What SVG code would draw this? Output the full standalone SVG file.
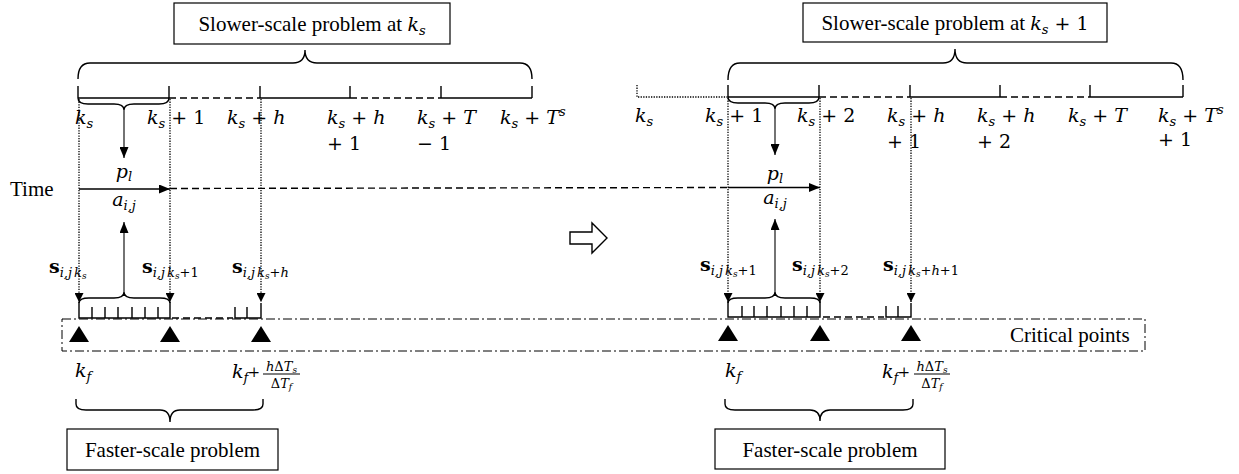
<svg xmlns="http://www.w3.org/2000/svg" width="1239" height="474" viewBox="0 0 1239 474">
<defs>
<style>
.ln{stroke:#000;stroke-width:1.4;fill:none}
.thin{stroke:#000;stroke-width:1.1;fill:none}
.dash{stroke:#000;stroke-width:1.4;fill:none;stroke-dasharray:7,4}
.dot{stroke:#000;stroke-width:1.3;fill:none;stroke-dasharray:1.3,1.3}
.dd{stroke:#000;stroke-width:1;fill:none;stroke-dasharray:9,3,2,3}
.box{fill:#fff;stroke:#000;stroke-width:1.2}
.tri{fill:#000}
.t{font-family:"Liberation Serif","Times New Roman",serif;font-size:21px;fill:#000}
.m{font-family:"DejaVu Serif","Liberation Serif",serif;font-size:19px;fill:#000}
.i{font-style:italic}
.sb{font-size:13px;font-style:italic}
.ss{font-size:9px;font-style:italic}
.n13{font-size:13px;font-style:normal}
.fr{font-family:"DejaVu Serif","Liberation Serif",serif;font-size:13px;fill:#000}
</style>
<marker id="ah" markerUnits="userSpaceOnUse" markerWidth="11" markerHeight="9" refX="11" refY="4.5" orient="auto"><path d="M0,0 L11,4.5 L0,9 z" fill="#000"/></marker>
<marker id="ahd" markerUnits="userSpaceOnUse" markerWidth="9" markerHeight="9" refX="9" refY="4.5" orient="auto"><path d="M0,0 L9,4.5 L0,9 z" fill="#000"/></marker>
</defs>
<rect width="1239" height="474" fill="#fff"/>

<g id="connectors">
<path class="ln" d="M78,98 H169 M260,98 H350 M441,98 H532"/>
<path class="dash" d="M169,98 H260 M350,98 H441"/>
<path class="ln" d="M78,86 V98 M169,86 V98 M260,86 V98 M350,86 V98 M441,86 V98 M532,86 V98"/>
<path class="ln" d="M78,79 Q78,63 90,63 L293,63 Q305,63 305,50 Q305,63 317,63 L520,63 Q532,63 532,79"/>
<path class="ln" d="M78,98 Q78,104 88,104 L114,104 Q124,104 124,110 Q124,104 134,104 L159,104 Q169,104 169,98"/>
<line class="thin" x1="124" y1="110" x2="124" y2="158" marker-end="url(#ah)"/>
<line class="dot" x1="79" y1="99" x2="79" y2="302" marker-end="url(#ahd)"/>
<line class="dot" x1="170" y1="99" x2="170" y2="302" marker-end="url(#ahd)"/>
<line class="dot" x1="261" y1="99" x2="261" y2="302" marker-end="url(#ahd)"/>
<line class="ln" x1="79" y1="189" x2="170" y2="189" marker-end="url(#ah)"/>
<path class="dash" d="M170,188.5 L728,187.5"/>
<line class="ln" x1="728" y1="187.5" x2="820" y2="187.5" marker-end="url(#ah)"/>
<line class="thin" x1="124" y1="292" x2="124" y2="222" marker-end="url(#ah)"/>
<path class="ln" d="M79,303 Q79,298 89,298 L114,298 Q124,298 124,292 Q124,298 134,298 L160,298 Q170,298 170,303"/>
<path class="ln" d="M79,302 V318 H170 V302 M92,307 V318 M105,307 V318 M118,307 V318 M132,307 V318 M145,307 V318 M158,307 V318"/>
<path class="dash" d="M172,318 H233"/>
<path class="ln" d="M235,307 V318 H261 V303 M247,307 V318"/>

<path class="dot" d="M637,85 V97 H728"/>
<path class="ln" d="M728,97 H819 M910,97 H1000 M1090,97 H1183"/>
<path class="dash" d="M819,97 H910 M1000,97 H1090"/>
<path class="ln" d="M728,85 V97 M819,85 V97 M910,85 V97 M1000,85 V97 M1090,85 V97 M1183,85 V97"/>
<path class="ln" d="M728,80 Q728,63 740,63 L943,63 Q955,63 955,49 Q955,63 967,63 L1171,63 Q1183,63 1183,80"/>
<path class="ln" d="M728,97 Q728,103 738,103 L765,103 Q775,103 775,109 Q775,103 785,103 L809,103 Q819,103 819,97"/>
<line class="thin" x1="775" y1="109" x2="775" y2="155" marker-end="url(#ah)"/>
<line class="dot" x1="728" y1="98" x2="728" y2="302" marker-end="url(#ahd)"/>
<line class="dot" x1="820" y1="98" x2="820" y2="302" marker-end="url(#ahd)"/>
<line class="dot" x1="911" y1="98" x2="911" y2="302" marker-end="url(#ahd)"/>
<line class="thin" x1="775" y1="292" x2="775" y2="219" marker-end="url(#ah)"/>
<path class="ln" d="M728,303 Q728,298 738,298 L765,298 Q775,298 775,292 Q775,298 785,298 L810,298 Q820,298 820,303"/>
<path class="ln" d="M728,302 V317 H820 V302 M742,306 V317 M754,306 V317 M767,306 V317 M781,306 V317 M794,306 V317 M807,306 V317"/>
<path class="dash" d="M823,317 H884"/>
<path class="ln" d="M886,306 V317 H911 V303 M898,306 V317"/>

<path class="ln" d="M76,399 V404 Q76,410 86,410 L160,410 Q170,410 170,422 Q170,410 180,410 L253,410 Q263,410 263,404 V399"/>
<path class="ln" d="M725,399 V404 Q725,410 735,410 L810,410 Q820,410 820,421 Q820,410 830,410 L903,410 Q913,410 913,404 V399"/>

<path d="M570,232 H592 V223 L607,238 L592,253 V244 H570 Z" fill="#fff" stroke="#000" stroke-width="1.4"/>
</g>

<g id="critical-points">
<rect class="dd" x="62" y="319" width="1083" height="32"/>
<path class="tri" d="M79,326 L89,342 L69,342 Z M170,326 L180,342 L160,342 Z M261,326 L271,342 L251,342 Z"/>
<path class="tri" d="M728,325 L738,341 L718,341 Z M820,325 L830,341 L810,341 Z M911,325 L921,341 L901,341 Z"/>
<text class="t" x="1010" y="342">Critical points</text>
</g>

<g id="slow-box-left">
<rect class="box" x="174" y="3" width="276" height="41"/>
<text class="t" x="312" y="31" text-anchor="middle">Slower-scale problem at <tspan class="m i">k</tspan><tspan class="m sb" dy="4">s</tspan></text>
</g>
<g id="slow-box-right">
<rect class="box" x="803" y="3" width="304" height="39"/>
<text class="t" x="955" y="30" text-anchor="middle">Slower-scale problem at <tspan class="m i">k</tspan><tspan class="m sb" dy="4">s</tspan><tspan class="m" dy="-4"> + 1</tspan></text>
</g>
<g id="fast-box-left">
<rect class="box" x="67" y="429" width="211" height="41"/>
<text class="t" x="172.5" y="457" text-anchor="middle">Faster-scale problem</text>
</g>
<g id="fast-box-right">
<rect class="box" x="715" y="429" width="230" height="40"/>
<text class="t" x="830" y="457" text-anchor="middle">Faster-scale problem</text>
</g>

<g id="time-labels-left">
<text class="t" x="10" y="196">Time</text>
<text class="m" x="75" y="124"><tspan class="i">k</tspan><tspan class="sb" dy="4">s</tspan></text>
<text class="m" x="147" y="124"><tspan class="i">k</tspan><tspan class="sb" dy="4">s</tspan><tspan dy="-4"> + 1</tspan></text>
<text class="m" x="227" y="124"><tspan class="i">k</tspan><tspan class="sb" dy="4">s</tspan><tspan dy="-4"> + </tspan><tspan class="i">h</tspan></text>
<text class="m" x="327" y="124"><tspan class="i">k</tspan><tspan class="sb" dy="4">s</tspan><tspan dy="-4"> + </tspan><tspan class="i">h</tspan></text>
<text class="m" x="327" y="150">+ 1</text>
<text class="m" x="417" y="124"><tspan class="i">k</tspan><tspan class="sb" dy="4">s</tspan><tspan dy="-4"> + </tspan><tspan class="i">T</tspan></text>
<text class="m" x="417" y="150">− 1</text>
<text class="m" x="500" y="124"><tspan class="i">k</tspan><tspan class="sb" dy="4">s</tspan><tspan dy="-4"> + </tspan><tspan class="i">T</tspan><tspan class="sb" dy="-8">s</tspan></text>
<text class="m" x="124" y="178" text-anchor="middle"><tspan class="i">p</tspan><tspan class="sb" dy="3">l</tspan></text>
<text class="m" x="124" y="206" text-anchor="middle"><tspan class="i">a</tspan><tspan class="sb" dy="4">i,j</tspan></text>
<text class="m" x="49" y="273"><tspan font-weight="bold">s</tspan><tspan class="sb" dy="4">i,j</tspan><tspan class="sb" dx="2">k</tspan><tspan class="ss" dy="2">s</tspan></text>
<text class="m" x="142" y="273"><tspan font-weight="bold">s</tspan><tspan class="sb" dy="4">i,j</tspan><tspan class="sb" dx="2">k</tspan><tspan class="ss" dy="2">s</tspan><tspan class="n13" dy="-2">+1</tspan></text>
<text class="m" x="232" y="273"><tspan font-weight="bold">s</tspan><tspan class="sb" dy="4">i,j</tspan><tspan class="sb" dx="2">k</tspan><tspan class="ss" dy="2">s</tspan><tspan class="n13" dy="-2">+</tspan><tspan class="sb">h</tspan></text>
<text class="m" x="75" y="377"><tspan class="i">k</tspan><tspan class="sb" dy="4">f</tspan></text>
<text class="m" x="232" y="378"><tspan class="i">k</tspan><tspan class="sb" dy="4">f</tspan><tspan font-size="14" dy="-5">+</tspan></text>
<text class="fr" x="281.5" y="371" text-anchor="middle"><tspan font-style="italic">h</tspan>Δ<tspan font-style="italic">T</tspan><tspan class="ss" dy="2">s</tspan></text>
<line class="thin" x1="263" y1="374" x2="300" y2="374"/>
<text class="fr" x="281.5" y="388" text-anchor="middle">Δ<tspan font-style="italic">T</tspan><tspan class="ss" dy="2">f</tspan></text>
</g>

<g id="time-labels-right">
<text class="m" x="635" y="122"><tspan class="i">k</tspan><tspan class="sb" dy="4">s</tspan></text>
<text class="m" x="705" y="122"><tspan class="i">k</tspan><tspan class="sb" dy="4">s</tspan><tspan dy="-4"> + 1</tspan></text>
<text class="m" x="797" y="122"><tspan class="i">k</tspan><tspan class="sb" dy="4">s</tspan><tspan dy="-4"> + 2</tspan></text>
<text class="m" x="887" y="122"><tspan class="i">k</tspan><tspan class="sb" dy="4">s</tspan><tspan dy="-4"> + </tspan><tspan class="i">h</tspan></text>
<text class="m" x="887" y="148">+ 1</text>
<text class="m" x="977" y="122"><tspan class="i">k</tspan><tspan class="sb" dy="4">s</tspan><tspan dy="-4"> + </tspan><tspan class="i">h</tspan></text>
<text class="m" x="977" y="148">+ 2</text>
<text class="m" x="1068" y="122"><tspan class="i">k</tspan><tspan class="sb" dy="4">s</tspan><tspan dy="-4"> + </tspan><tspan class="i">T</tspan></text>
<text class="m" x="1158" y="122"><tspan class="i">k</tspan><tspan class="sb" dy="4">s</tspan><tspan dy="-4"> + </tspan><tspan class="i">T</tspan><tspan class="sb" dy="-8">s</tspan></text>
<text class="m" x="1158" y="146">+ 1</text>
<text class="m" x="775" y="180" text-anchor="middle"><tspan class="i">p</tspan><tspan class="sb" dy="3">l</tspan></text>
<text class="m" x="775" y="204" text-anchor="middle"><tspan class="i">a</tspan><tspan class="sb" dy="4">i,j</tspan></text>
<text class="m" x="700" y="271"><tspan font-weight="bold">s</tspan><tspan class="sb" dy="4">i,j</tspan><tspan class="sb" dx="2">k</tspan><tspan class="ss" dy="2">s</tspan><tspan class="n13" dy="-2">+1</tspan></text>
<text class="m" x="792" y="271"><tspan font-weight="bold">s</tspan><tspan class="sb" dy="4">i,j</tspan><tspan class="sb" dx="2">k</tspan><tspan class="ss" dy="2">s</tspan><tspan class="n13" dy="-2">+2</tspan></text>
<text class="m" x="883" y="271"><tspan font-weight="bold">s</tspan><tspan class="sb" dy="4">i,j</tspan><tspan class="sb" dx="2">k</tspan><tspan class="ss" dy="2">s</tspan><tspan class="n13" dy="-2">+</tspan><tspan class="sb">h</tspan><tspan class="n13">+1</tspan></text>
<text class="m" x="725" y="377"><tspan class="i">k</tspan><tspan class="sb" dy="4">f</tspan></text>
<text class="m" x="882" y="378"><tspan class="i">k</tspan><tspan class="sb" dy="4">f</tspan><tspan font-size="14" dy="-5">+</tspan></text>
<text class="fr" x="932" y="371" text-anchor="middle"><tspan font-style="italic">h</tspan>Δ<tspan font-style="italic">T</tspan><tspan class="ss" dy="2">s</tspan></text>
<line class="thin" x1="914" y1="374" x2="950" y2="374"/>
<text class="fr" x="932" y="388" text-anchor="middle">Δ<tspan font-style="italic">T</tspan><tspan class="ss" dy="2">f</tspan></text>
</g>
</svg>
